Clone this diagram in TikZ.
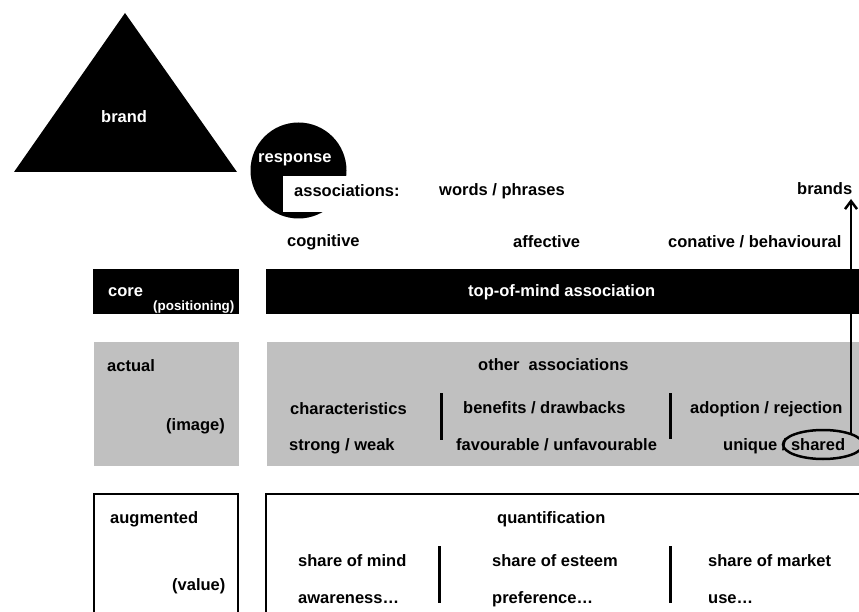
\documentclass[tikz,border=0pt]{standalone}
\usepackage{fontspec}
\setmainfont{Liberation Sans}
\usetikzlibrary{arrows.meta,shapes.geometric}
\definecolor{boxgray}{HTML}{C0C0C0}
\tikzset{
  lbl/.style={anchor=base west, inner sep=0pt, font=\bfseries\fontsize{16.5}{19}\selectfont},
  wlbl/.style={lbl, text=white},
  smalllbl/.style={anchor=base west, inner sep=0pt, text=white, font=\bfseries\fontsize{13.4}{16}\selectfont},
  sep/.style={line width=3pt},
  frame/.style={draw=black, line width=2.5pt, fill=white},
}
\begin{document}
\begin{tikzpicture}[x=1pt,y=-1pt]
\useasboundingbox (0,0) rectangle (859,612);
\clip (0,0) rectangle (859,612);
% brand triangle
\fill[black] (14,172) -- (125,13) -- (237,172) -- cycle;
\node[wlbl] (brand) at (101,122.7) {brand};
% response circle
\fill[black] (298.5,170.5) circle (48pt);
\fill[white] (283,176.5) rectangle (352,212);
\node[wlbl] (response) at (258,163) {response};
\node[lbl] (assoc) at (294,197) {associations:};
\node[lbl] (words) at (439,196) {words / phrases};
\node[lbl] (brands) at (797,195) {brands};
\node[lbl] (cog) at (287,247) {cognitive};
\node[lbl] (aff) at (513,248) {affective};
\node[lbl] (con) at (668,248) {conative / behavioural};
% core row
\fill[black] (93,269) rectangle (239,314);
\fill[black] (266,269) rectangle (870,314);
\node[wlbl] (core) at (108,297) {core};
\node[smalllbl] (pos) at (153,310) {(positioning)};
\node[wlbl] (tom) at (468,297) {top-of-mind association};
% actual row
\fill[boxgray] (94,342) rectangle (239,466);
\fill[boxgray] (267,342) rectangle (870,466);
\node[lbl] (actual) at (107,371) {actual};
\node[lbl] (image) at (166,430) {(image)};
\node[lbl] (other) at (478,370) {other\ \ associations};
\node[lbl] (char) at (290,414) {characteristics};
\node[lbl] (strong) at (289,450) {strong / weak};
\node[lbl] (ben) at (463,413) {benefits / drawbacks};
\node[lbl] (fav) at (456,450) {favourable / unfavourable};
\node[lbl] (adop) at (690,413) {adoption / rejection};
\node[lbl] (uniq) at (723,450) {unique / shared};
\coordinate (sa1) at (441,393); \coordinate (sa2) at (441,440);
\coordinate (sb1) at (670,393); \coordinate (sb2) at (670,439);
\draw[sep] (sa1) -- (sa2);
\draw[sep] (sb1) -- (sb2);
% ellipse and arrow
\node[draw, ellipse, line width=2.5pt, minimum width=80pt, minimum height=29pt, inner sep=0pt] (ell) at (823,444.5) {};
\coordinate (arrbot) at (851,434);
\coordinate (arrtop) at (851,199);
\draw[line width=2.5pt, -{Straight Barb[length=8pt,width=12pt,line width=2.5pt]}] (arrbot) -- (arrtop);
% augmented row
\draw[frame] (94,494) rectangle (238,640);
\draw[frame] (266,494) rectangle (880,640);
\node[lbl] (aug) at (110,523) {augmented};
\node[lbl] (val) at (172,590) {(value)};
\node[lbl] (quant) at (497,523) {quantification};
\node[lbl] (som) at (298,566) {share of mind};
\node[lbl] (awa) at (298,603) {awareness…};
\node[lbl] (soe) at (492,566) {share of esteem};
\node[lbl] (pref) at (492,603) {preference…};
\node[lbl] (somk) at (708,566) {share of market};
\node[lbl] (use) at (708,603) {use…};
\coordinate (sc1) at (439,546); \coordinate (sc2) at (439,603);
\coordinate (sd1) at (670,546); \coordinate (sd2) at (670,603);
\draw[sep] (sc1) -- (sc2);
\draw[sep] (sd1) -- (sd2);
\end{tikzpicture}
\end{document}
